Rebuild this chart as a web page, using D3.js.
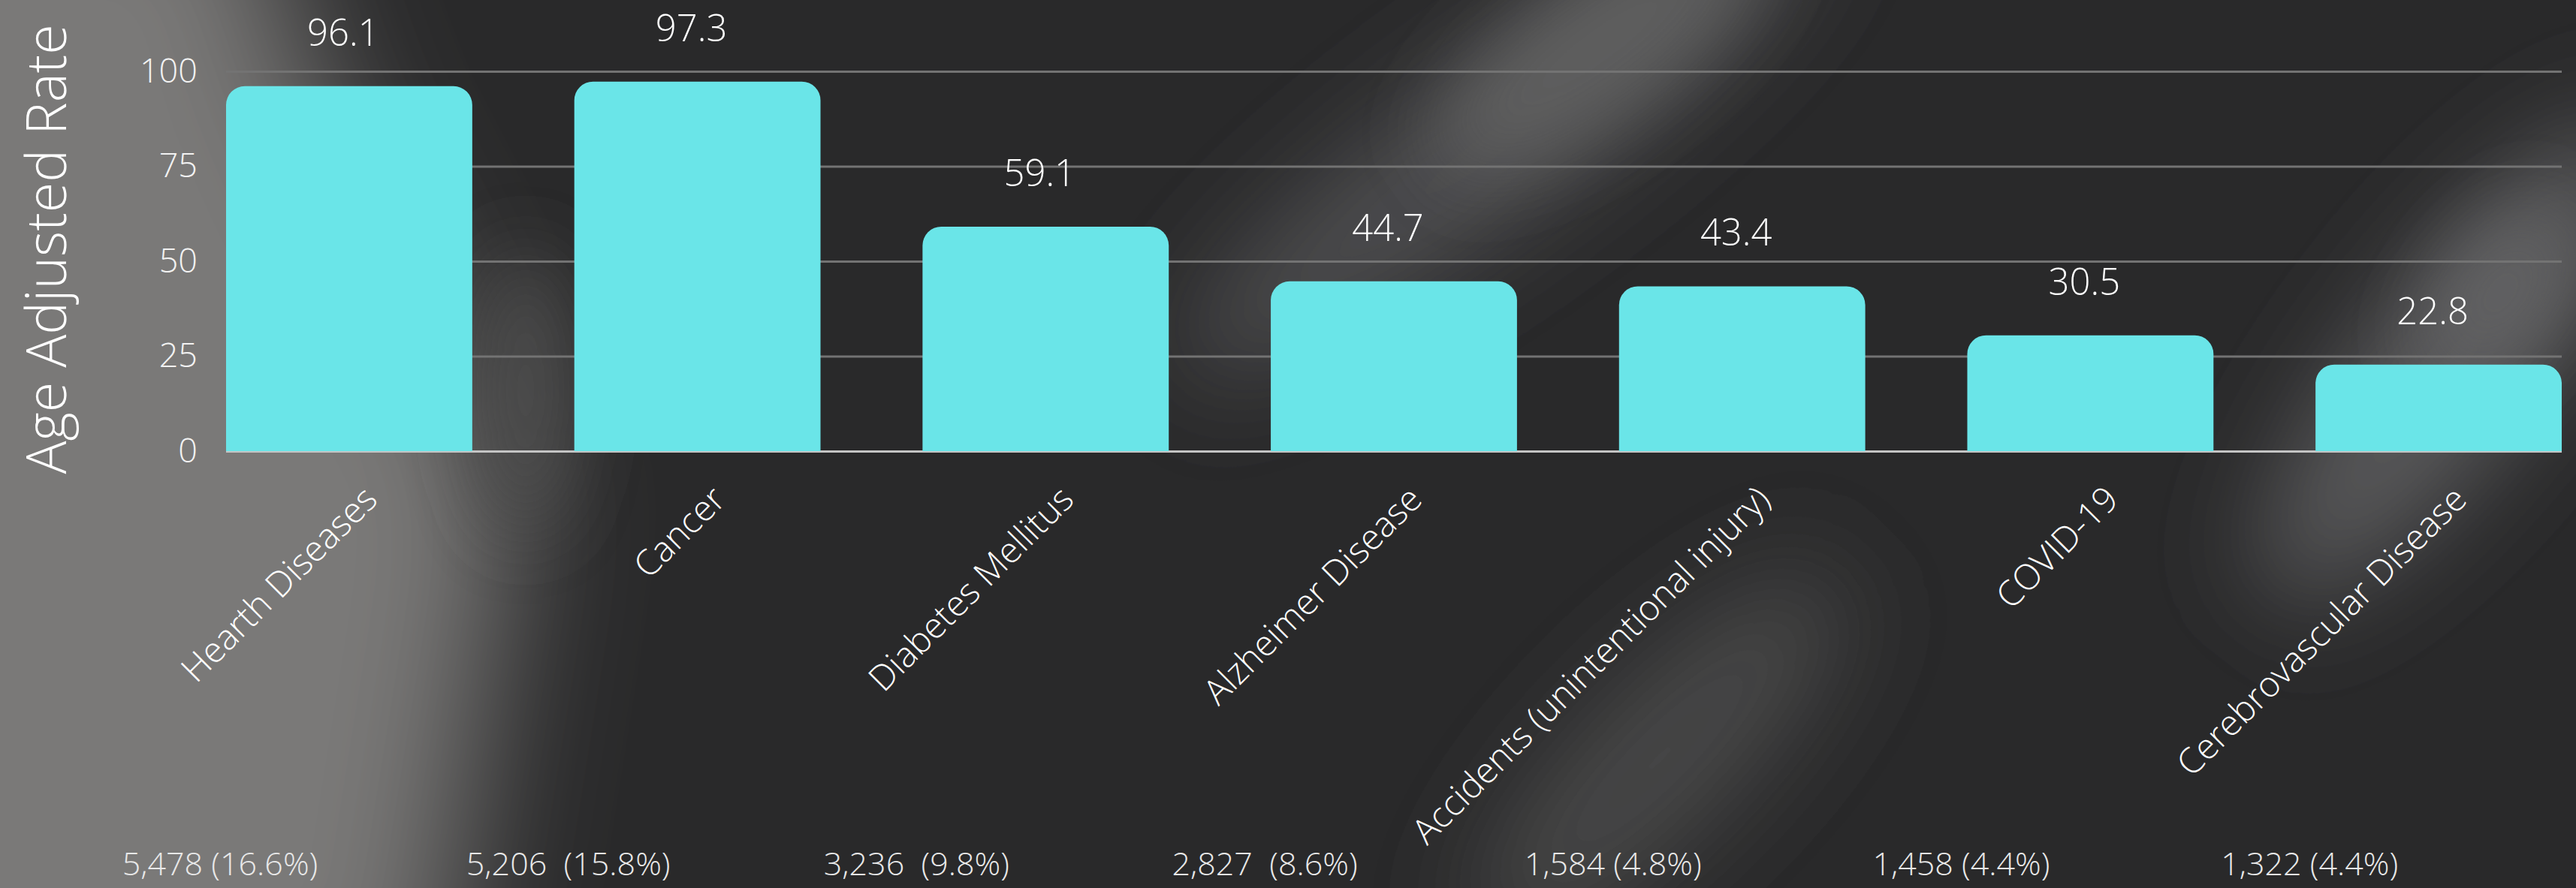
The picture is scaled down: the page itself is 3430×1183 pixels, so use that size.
<!DOCTYPE html>
<html><head><meta charset="utf-8">
<script src="https://cdn.jsdelivr.net/npm/d3@7"></script>
<style>
html,body{margin:0;padding:0;background:#29292a;overflow:hidden}
text{font-family:"Open Sans","Noto Sans",sans-serif;font-weight:300}
</style>
</head><body>
<svg id="chart" width="3430" height="1183"></svg>
<script>
// ---- data ----
const categories = ["Hearth Diseases","Cancer","Diabetes Mellitus","Alzheimer Disease","Accidents (unintentional injury)","COVID-19","Cerebrovascular Disease"];
const rates = [96.1, 97.3, 59.1, 44.7, 43.4, 30.5, 22.8];
const deathLabels = ["5,478 (16.6%)","5,206  (15.8%)","3,236  (9.8%)","2,827  (8.6%)","1,584 (4.8%)","1,458 (4.4%)","1,322 (4.4%)"];
const yTicks = [0, 25, 50, 75, 100];
const yTitle = "Age Adjusted Rate";

const W = 3430, H = 1183;
const margin = {left: 301, right: 19, top: 95, bottom: 582};
const svg = d3.select("#chart");
const defs = svg.append("defs");

// ---- background ----
[["b1",95],["b2",70],["b3",50]].forEach(([id,s])=>{
  defs.append("filter").attr("id",id).attr("x","-100%").attr("y","-100%").attr("width","300%").attr("height","300%")
    .append("feGaussianBlur").attr("stdDeviation",s);
});
const bg = svg.append("g");
bg.append("rect").attr("width",W).attr("height",H).attr("fill","#29292a");
bg.append("path").attr("d","M-200,-200 L320,-200 L430,150 L570,420 L690,650 L650,900 L570,1400 L-200,1400 Z")
  .attr("fill","#7a7978").attr("filter","url(#b1)");
bg.append("ellipse").attr("cx",700).attr("cy",520).attr("rx",60).attr("ry",190).attr("fill","#4e4e4e").attr("filter","url(#b3)");
// top diagonal streak
bg.append("ellipse").attr("cx",1990).attr("cy",190).attr("rx",520).attr("ry",105)
  .attr("transform","rotate(-36,1990,190)").attr("fill","#4d4d4f").attr("filter","url(#b2)");
bg.append("ellipse").attr("cx",2130).attr("cy",60).attr("rx",260).attr("ry",90)
  .attr("transform","rotate(-36,2130,60)").attr("fill","#5e5e5f").attr("filter","url(#b3)");
// right streak
bg.append("ellipse").attr("cx",3270).attr("cy",480).attr("rx",400).attr("ry",115)
  .attr("transform","rotate(-52,3270,480)").attr("fill","#5a5a5b").attr("filter","url(#b2)");
bg.append("ellipse").attr("cx",3330).attr("cy",390).attr("rx",130).attr("ry",70)
  .attr("transform","rotate(-52,3330,390)").attr("fill","#626263").attr("filter","url(#b3)");
// bottom-middle streak
bg.append("ellipse").attr("cx",2210).attr("cy",1010).attr("rx",340).attr("ry",100)
  .attr("transform","rotate(-45,2210,1010)").attr("fill","#48484a").attr("filter","url(#b2)");

// ---- scales ----
const x = d3.scaleBand().domain(categories).range([margin.left, W - margin.right]).paddingInner(0.293).paddingOuter(0);
const y = d3.scaleLinear().domain([0, 100]).range([H - margin.bottom, margin.top]);

// ---- gridlines + y axis ----
const yAxis = d3.axisLeft(y).tickValues(yTicks).tickSize(-(W - margin.left - margin.right)).tickPadding(38);
const gy = svg.append("g").attr("transform",`translate(${margin.left},0)`).call(yAxis);
gy.select(".domain").remove();
gy.selectAll(".tick line").attr("stroke","#737373").attr("stroke-width",3)
  .filter(d=>d===0).attr("stroke","#c4c4c4");
gy.selectAll(".tick text").attr("fill","#f2f2f2").attr("font-size",45)
  .attr("font-family","'Open Sans',sans-serif").attr("font-weight",300);

// ---- bars ----
const r = 25;
function barPath(d, i){
  const x0 = x(categories[i]), w = x.bandwidth(), y0 = y(d), b = y(0);
  return `M${x0},${b}L${x0},${y0+r}A${r},${r} 0 0 1 ${x0+r},${y0}L${x0+w-r},${y0}A${r},${r} 0 0 1 ${x0+w},${y0+r}L${x0+w},${b}Z`;
}
svg.append("g").selectAll("path").data(rates).join("path")
  .attr("d", barPath).attr("fill","#6ae5e8");

// ---- value labels ----
svg.append("g").selectAll("text").data(rates).join("text")
  .attr("x",(d,i)=>x(categories[i]) + x.bandwidth()/2 - 8)
  .attr("y",d=>y(d) - 54)
  .attr("text-anchor","middle").attr("fill","#ffffff").attr("font-size",49)
  .text(d=>d.toFixed(1));

// ---- category labels ----
svg.append("g").selectAll("text").data(categories).join("text")
  .attr("transform",c=>`translate(${x(c) + x.bandwidth()/2 + 40},668) rotate(-45)`)
  .attr("text-anchor","end").attr("fill","#ffffff").attr("font-size",47)
  .text(c=>c);

// ---- death counts ----
svg.append("g").selectAll("text").data(deathLabels).join("text")
  .attr("x",(d,i)=>x(categories[i]) - 8)
  .attr("y",1166)
  .attr("text-anchor","middle").attr("fill","#e8e8e8").attr("font-size",43)
  .style("white-space","pre")
  .text(d=>d);

// ---- y title ----
svg.append("text")
  .attr("transform",`translate(88,${(y(0)+y(100))/2 - 16}) rotate(-90)`)
  .attr("text-anchor","middle").attr("fill","#ffffff").attr("font-size",74)
  .attr("textLength",599).attr("lengthAdjust","spacingAndGlyphs")
  .text(yTitle);
</script>
</body></html>
